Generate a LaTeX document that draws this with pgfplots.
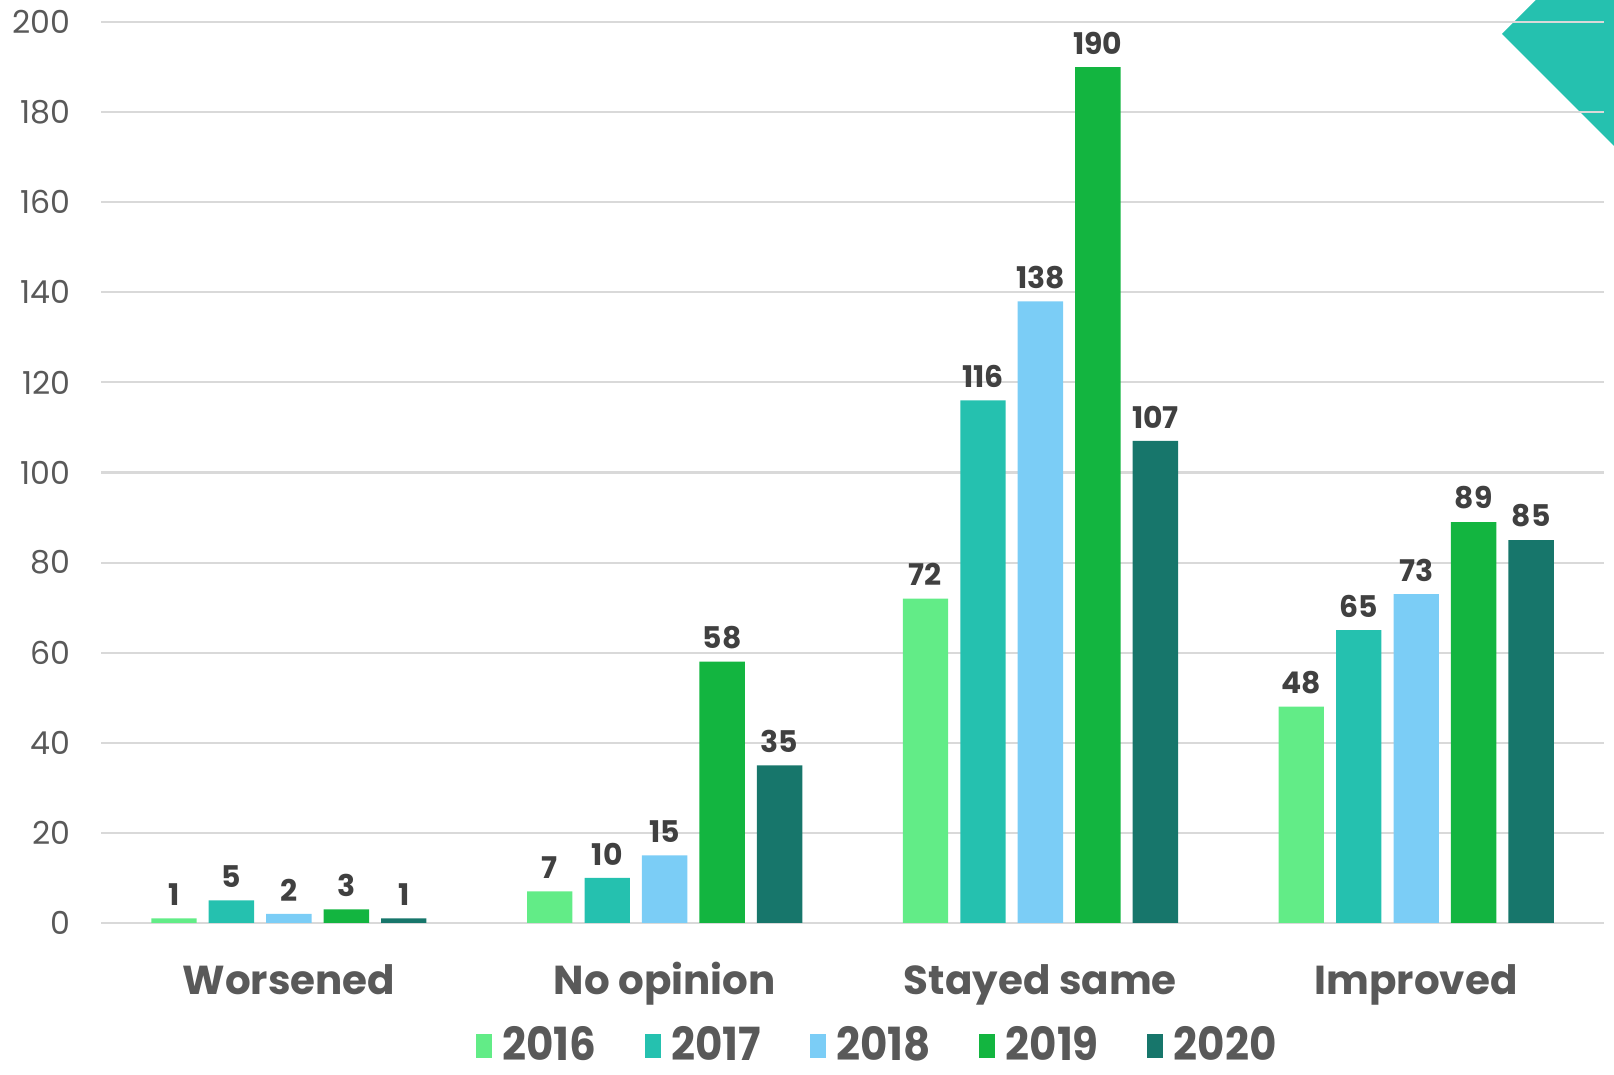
\documentclass[border=0pt]{standalone}
\usepackage{pgfplots}
\pgfplotsset{compat=1.18}
\usepackage{fontspec}
\setmainfont{Poppins}
\newfontfamily\popc[FakeStretch=0.92]{Poppins}
\definecolor{c16}{HTML}{62EC87}
\definecolor{c17}{HTML}{25C1AF}
\definecolor{c18}{HTML}{7BCDF6}
\definecolor{c19}{HTML}{13B540}
\definecolor{c20}{HTML}{17766B}
\definecolor{txt}{HTML}{595959}
\definecolor{val}{HTML}{404040}
\definecolor{gridc}{HTML}{D9D9D9}
\begin{document}
\begin{tikzpicture}
\useasboundingbox (0,0) rectangle (16.14,10.75);
\fill[c17] (15.36,10.75) -- (15.02,10.41) -- (16.14,9.29) -- (16.14,10.75) -- cycle;
\begin{axis}[
  at={(1.01cm,1.52cm)}, anchor=south west,
  scale only axis, width=15.03cm, height=9.01cm,
  xmin=-0.5, xmax=3.5, ymin=0, ymax=200,
  ybar, bar width=0.1205,
  axis line style={draw=none},
  major tick length=0pt,
  ymajorgrids, grid style={gridc, line width=0.6pt},
  ytick={0,20,...,200},
  xtick={0,1,2,3},
  xticklabels={Worsened,No opinion,Stayed same,Improved},
  xticklabel style={anchor=base, yshift=-0.72cm, font=\fontsize{11.5}{14}\selectfont\bfseries, text=txt},
  yticklabel style={anchor=east, inner sep=0pt, xshift=-0.3cm, font=\fontsize{9}{11}\selectfont, text=txt},
  /pgf/number format/assume math mode=true,
  nodes near coords,
  nodes near coords style={anchor=south, inner sep=0pt, yshift=0.12cm, font=\fontsize{8.5}{10}\selectfont\bfseries, text=val},
  legend columns=5,
  legend style={at={(0.517,-0.137)}, anchor=center, draw=none, fill=none, inner sep=1pt,
    font=\popc\fontsize{13}{15}\selectfont\bfseries, text=txt,
    nodes={inner sep=1pt},
    /tikz/every odd column/.append style={column sep=0.07cm},
    /tikz/every even column/.append style={column sep=0.45cm}},
  legend image code/.code={\fill[#1] (0cm,-0.12cm) rectangle (0.16cm,0.12cm);},
]
\addplot[fill=c16, draw=none, bar shift=-0.306] coordinates {(0,1) (1,7) (2,72) (3,48)};
\addplot[fill=c17, draw=none, bar shift=-0.153] coordinates {(0,5) (1,10) (2,116) (3,65)};
\addplot[fill=c18, draw=none, bar shift=0] coordinates {(0,2) (1,15) (2,138) (3,73)};
\addplot[fill=c19, draw=none, bar shift=0.153] coordinates {(0,3) (1,58) (2,190) (3,89)};
\addplot[fill=c20, draw=none, bar shift=0.306] coordinates {(0,1) (1,35) (2,107) (3,85)};
\legend{2016,2017,2018,2019,2020}
\end{axis}
\end{tikzpicture}
\end{document}
